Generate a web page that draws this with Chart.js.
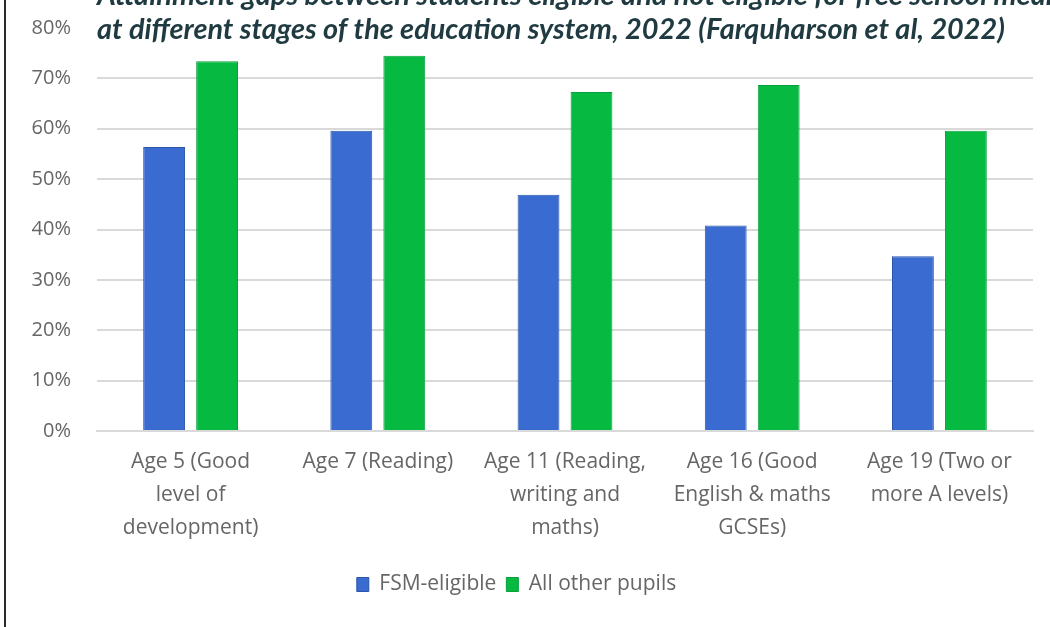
<!DOCTYPE html>
<html>
<head>
<meta charset="utf-8">
<script src="https://cdn.jsdelivr.net/npm/chart.js@4"></script>
<style>
  html, body { margin: 0; padding: 0; background: #fff; }
  #wrap { position: relative; width: 1050px; height: 627px; overflow: hidden; }
  #frame { position: absolute; left: 4px; top: 0; width: 2px; height: 627px; background: #2a2a2a; }
  canvas { position: absolute; left: 0; top: 0; }
</style>
</head>
<body>
<div id="wrap">
  <canvas id="c" width="1050" height="627"></canvas>
  <div id="frame"></div>
</div>
<script>
const categories = [
  ["Age 5 (Good", "level of", "development)"],
  ["Age 7 (Reading)"],
  ["Age 11 (Reading,", "writing and", "maths)"],
  ["Age 16 (Good", "English & maths", "GCSEs)"],
  ["Age 19 (Two or", "more A levels)"]
];
const fsmEligible = [56.4, 59.6, 46.9, 40.8, 34.7];
const allOtherPupils = [73.4, 74.5, 67.3, 68.7, 59.6];
const seriesNames = ["FSM-eligible", "All other pupils"];
const yTicks = [0, 10, 20, 30, 40, 50, 60, 70, 80];
const titleLines = [
  "Attainment gaps between students eligible and not eligible for free school meals",
  "at different stages of the education system, 2022 (Farquharson et al, 2022)"
];

const labelFont = { family: "'Open Sans', 'DejaVu Sans', sans-serif", size: 21 };
const tickFont = { family: "'Open Sans', 'DejaVu Sans', sans-serif", size: 20 };
const grey = '#666666';

const titlePlugin = {
  id: 'clippedTitle',
  afterDraw(chart) {
    const ctx = chart.ctx;
    ctx.save();
    ctx.fillStyle = '#1f3a40';
    ctx.font = "italic bold 29px Lato, 'Open Sans', sans-serif";
    ctx.textBaseline = 'alphabetic';
    ctx.textAlign = 'left';
    const x = 97;
    ctx.fillText(titleLines[0], x, 5);
    ctx.fillText(titleLines[1], x, 39, 908);
    ctx.restore();
  }
};

new Chart(document.getElementById('c'), {
  type: 'bar',
  data: {
    labels: categories,
    datasets: [
      {
        label: seriesNames[0],
        data: fsmEligible,
        backgroundColor: '#3a6bd1',
        borderColor: '#2c55a8',
        borderWidth: 1
      },
      {
        label: seriesNames[1],
        data: allOtherPupils,
        backgroundColor: '#06b941',
        borderColor: '#08a03a',
        borderWidth: 1
      }
    ]
  },
  options: {
    responsive: false,
    animation: false,
    layout: { padding: { left: 0, right: 17, top: 28, bottom: 22 } },
    datasets: {
      bar: { categoryPercentage: 0.566, barPercentage: 0.79 }
    },
    scales: {
      x: {
        grid: { display: false, drawTicks: false },
        border: { display: true, color: '#d9d9d9', width: 2 },
        ticks: {
          color: grey,
          font: { ...labelFont, lineHeight: 1.58 },
          padding: 14,
          maxRotation: 0,
          autoSkip: false
        },
        afterFit(scale) { scale.height = 133; }
      },
      y: {
        min: 0,
        max: 80,
        afterBuildTicks(scale) { scale.ticks = yTicks.map(v => ({ value: v })); },
        grid: {
          color: c => (c.tick && c.tick.value === 80) ? 'rgba(0,0,0,0)' : '#d9d9d9',
          lineWidth: 2,
          drawTicks: false
        },
        border: { display: false },
        ticks: {
          color: grey,
          font: tickFont,
          padding: 26,
          callback: v => v + '%'
        },
        afterFit(scale) {
          scale.width = 97;
          scale.paddingTop = 12;
          scale.paddingBottom = 12;
        }
      }
    },
    plugins: {
      title: { display: false },
      tooltip: { enabled: false },
      legend: {
        position: 'bottom',
        labels: {
          color: grey,
          font: labelFont,
          boxWidth: 12,
          boxHeight: 14,
          padding: 10
        }
      }
    }
  },
  plugins: [titlePlugin]
});
</script>
</body>
</html>
